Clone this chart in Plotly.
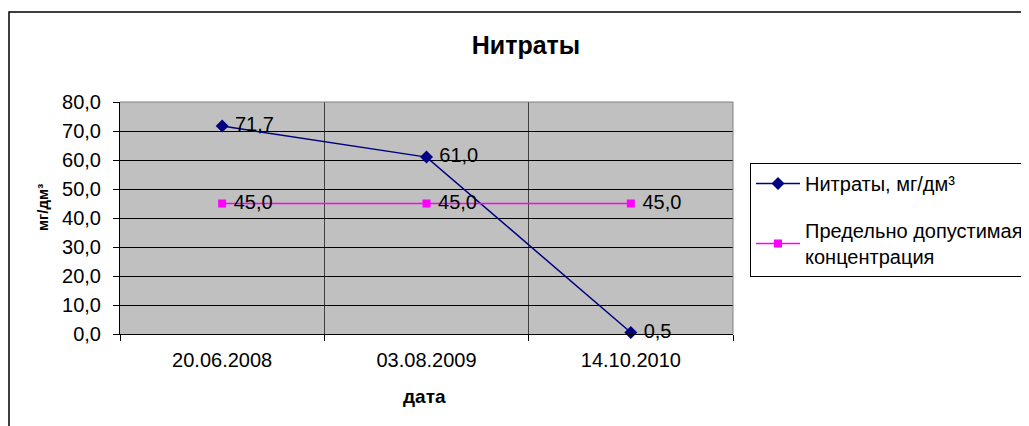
import plotly.graph_objects as go

dates = ["20.06.2008", "03.08.2009", "14.10.2010"]
nitrates = [71.7, 61.0, 0.5]
pdk = [45.0, 45.0, 45.0]
y_ticks = [0, 10, 20, 30, 40, 50, 60, 70, 80]

# page body has an 8px margin; work in screen coords and subtract it
OFF = 8
W, H = 1029 - OFF, 426 - OFF
L, R, T, B = 120 - OFF, 733 - OFF, 102 - OFF, 334 - OFF
pw, ph = R - L, B - T


def px(x):  # screen x -> paper x
    return (x - OFF - L) / pw


def py(y):  # screen y -> paper y
    return (B - (y - OFF)) / ph


xs = list(range(len(dates)))
FONT = "Arial, Liberation Sans, sans-serif"

fig = go.Figure()
fig.add_trace(go.Scatter(
    x=xs, y=nitrates, name="Нитраты, мг/дм³", mode="lines+markers+text",
    line=dict(color="#000080", width=1.5),
    marker=dict(symbol="diamond", size=10, color="#000080"),
    texttemplate="\u00a0%{y:.1f}", textposition="middle right",
    textfont=dict(family=FONT, size=20, color="black"),
    legendgroup="a", cliponaxis=False,
))
fig.add_trace(go.Scatter(
    x=xs, y=pdk, name="Предельно допустимая<br>концентрация", mode="lines+markers+text",
    line=dict(color="#FF00FF", width=1.5),
    marker=dict(symbol="square", size=8, color="#FF00FF"),
    texttemplate="\u00a0%{y:.1f}", textposition="middle right",
    textfont=dict(family=FONT, size=20, color="black"),
    legendgroup="b", cliponaxis=False,
))

fig.update_layout(
    width=W, height=H,
    margin=dict(l=L, r=W - R, t=T, b=H - B, autoexpand=False),
    paper_bgcolor="white", plot_bgcolor="#C0C0C0",
    separators=", ",
    font=dict(family=FONT, size=20, color="black"),
    title=dict(text="<b>Нитраты</b>", font=dict(size=25, color="black"),
               x=(526 - OFF) / W, xref="container", xanchor="center",
               y=1 - (45 - OFF) / H, yref="container", yanchor="middle"),
    hovermode=False,
    showlegend=True,
    legend=dict(x=px(750), xanchor="left", y=py(163), yanchor="top",
                bordercolor="black", borderwidth=1, bgcolor="white",
                font=dict(size=20), traceorder="grouped", tracegroupgap=18,
                itemwidth=44),
    xaxis=dict(range=[-0.5, 2.5], tickmode="array", tickvals=xs, ticktext=dates,
               showgrid=False, zeroline=False, showline=True, linecolor="black", linewidth=1,
               ticks="", ticklabelstandoff=8,
               minor=dict(tickmode="array", tickvals=[-0.5, 0.5, 1.5, 2.5], ticks="outside",
                          ticklen=6, tickcolor="black", showgrid=True, gridcolor="#404040",
                          gridwidth=1),
               fixedrange=True),
    yaxis=dict(range=[0, 80], tickmode="array", tickvals=y_ticks, tickformat=".1f",
               showgrid=True, gridcolor="black", gridwidth=1, zeroline=False,
               showline=True, linecolor="black", linewidth=1,
               ticks="outside", ticklen=6, tickcolor="black", ticklabelstandoff=8,
               fixedrange=True),
    annotations=[
        dict(text="<b>дата</b>", xref="paper", yref="paper", x=px(424), y=py(396),
             xanchor="center", yanchor="middle", showarrow=False, font=dict(size=19)),
        dict(text="<b>мг/дм³</b>", xref="paper", yref="paper", x=px(42), y=py(208),
             xanchor="center", yanchor="middle", showarrow=False, textangle=-90,
             font=dict(size=15)),
    ],
    shapes=[
        dict(type="line", xref="paper", yref="paper", x0=0, x1=1, y0=1, y1=1,
             line=dict(color="#808080", width=1), layer="above"),
        dict(type="line", xref="paper", yref="paper", x0=1, x1=1, y0=0, y1=1,
             line=dict(color="#808080", width=1), layer="above"),
        dict(type="rect", xref="paper", yref="paper",
             x0=px(9), x1=px(1045), y0=py(445), y1=py(12),
             line=dict(color="black", width=1.5), fillcolor="rgba(0,0,0,0)", layer="below"),
    ],
)

fig.write_html("out.html")
